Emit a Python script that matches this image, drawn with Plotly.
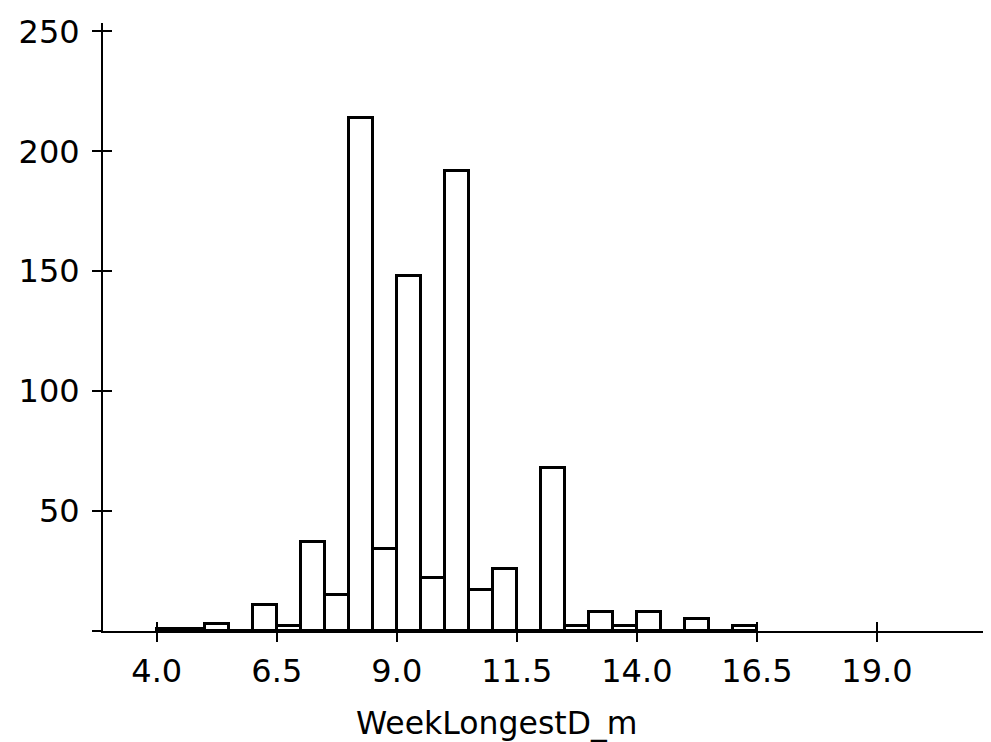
import plotly.graph_objects as go

# Histogram of WeekLongestD_m, bin width 0.5
bin_left = [4.0, 4.5, 5.0, 5.5, 6.0, 6.5, 7.0, 7.5, 8.0, 8.5, 9.0, 9.5, 10.0,
            10.5, 11.0, 11.5, 12.0, 12.5, 13.0, 13.5, 14.0, 14.5, 15.0, 15.5, 16.0]
counts = [1, 1, 3, 0, 11, 2, 37, 15, 214, 34, 148, 22, 192,
          17, 26, 0, 68, 2, 8, 2, 8, 0, 5, 0, 2]
bin_width = 0.5
x_tickvals = [4.0, 6.5, 9.0, 11.5, 14.0, 16.5, 19.0]
y_tickvals = [0, 50, 100, 150, 200, 250]
y_ticktext = ["", "50", "100", "150", "200", "250"]
x_title = "WeekLongestD_m"

x_range = [2.88, 21.21]
y_range = [0, 253.5]

FONT = "DejaVu Sans"

fig = go.Figure()
fig.add_trace(go.Bar(
    x=[b + bin_width / 2 for b in bin_left],
    y=counts,
    width=bin_width,
    marker=dict(color="white", line=dict(color="black", width=3)),
    hoverinfo="x+y",
))
# empty trace so the overlay axes (inner half of the crossing ticks) render
fig.add_trace(go.Scatter(x=[], y=[], xaxis="x2", yaxis="y2",
                         hoverinfo="skip", showlegend=False))

common_tick = dict(tickcolor="black", tickwidth=2, ticklen=9)

fig.update_layout(
    template="none",
    width=991, height=742,
    margin=dict(l=95, r=16, t=15, b=119, autoexpand=False),
    paper_bgcolor="white", plot_bgcolor="white",
    showlegend=False,
    bargap=0,
    font=dict(family=FONT, color="black", size=32),
    xaxis=dict(
        range=x_range, tickvals=x_tickvals,
        ticktext=[f"{v:.1f}" for v in x_tickvals],
        ticks="outside", showline=True, linecolor="black", linewidth=2,
        showgrid=False, zeroline=False, ticklabelstandoff=2, automargin=False,
        tickfont=dict(family=FONT, size=32, color="black"),
        **common_tick,
    ),
    yaxis=dict(
        range=y_range, tickvals=y_tickvals, ticktext=y_ticktext,
        ticks="outside", showline=True, linecolor="black", linewidth=2,
        showgrid=False, zeroline=False, ticklabelstandoff=6, automargin=False,
        tickfont=dict(family=FONT, size=32, color="black"),
        **common_tick,
    ),
    xaxis2=dict(
        range=x_range, overlaying="x", anchor="y2", side="bottom",
        tickvals=x_tickvals, ticks="inside", showticklabels=False,
        showline=False, showgrid=False, zeroline=False, automargin=False,
        **common_tick,
    ),
    yaxis2=dict(
        range=y_range, overlaying="y", anchor="x2", side="left",
        tickvals=y_tickvals, ticks="inside", showticklabels=False,
        showline=False, showgrid=False, zeroline=False, automargin=False,
        **common_tick,
    ),
    annotations=[dict(
        text=x_title, xref="paper", yref="paper",
        x=0.447, y=-0.152, xanchor="center", yanchor="middle",
        showarrow=False, font=dict(family=FONT, size=31.5, color="black"),
    )],
)

fig.write_html("out.html")
